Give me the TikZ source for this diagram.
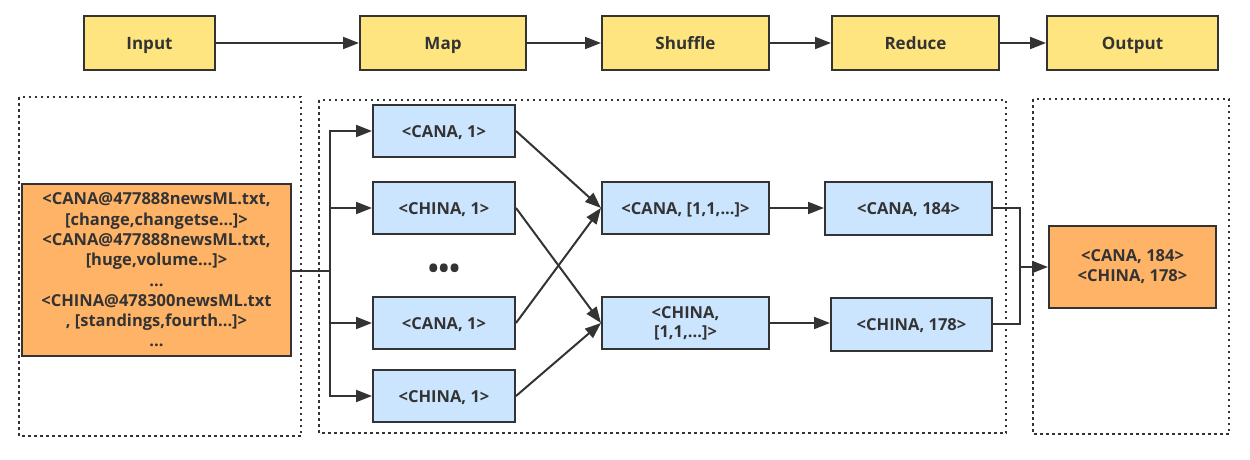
\documentclass[tikz,border=0pt]{standalone}
\usepackage{fontspec}
\setmainfont{Open Sans}
\usetikzlibrary{arrows.meta}
\definecolor{bordc}{RGB}{51,51,51}
\definecolor{yel}{RGB}{255,229,127}
\definecolor{blu}{RGB}{204,229,255}
\definecolor{ora}{RGB}{255,179,102}
\definecolor{txt}{RGB}{51,51,51}
\begin{document}
\begin{tikzpicture}[x=1pt,y=-1pt,
  box/.style={draw=bordc,line width=2pt,rectangle,inner sep=0pt,align=center,
    text=txt,font=\bfseries\fontsize{16.5}{20}\selectfont},
  one/.style={text height=12pt,text depth=0pt},
  stage/.style={box,one,fill=yel,minimum height=54pt,font=\bfseries\fontsize{17}{20}\selectfont},
  kv/.style={box,fill=blu,minimum height=52pt},
  res/.style={box,fill=ora},
  arr/.style={draw=bordc,line width=2pt,-{Triangle[length=16pt,width=12pt]}},
  ln/.style={draw=bordc,line width=2pt},
  frame/.style={draw=bordc,line width=2pt,dash pattern=on 2.5pt off 3.5pt}]
\useasboundingbox (0,0) rectangle (1250,460);
% top row
\node[stage,minimum width=131pt] (tin) at (149.5,43) {Input};
\node[stage,minimum width=166pt] (tmap) at (443,43) {Map};
\node[stage,minimum width=167pt] (tshuf) at (685.5,43) {Shuffle};
\node[stage,minimum width=167pt] (tred) at (915.5,43) {Reduce};
\node[stage,minimum width=171pt] (tout) at (1132.5,43) {Output};
\draw[arr] (tin) -- (tmap);
\draw[arr] (tmap) -- (tshuf);
\draw[arr] (tshuf) -- (tred);
\draw[arr] (tred) -- (tout);
% frames
\draw[frame] (19,97) rectangle (301,436);
\draw[frame] (319,100) rectangle (1006,433);
\draw[frame] (1033,99) rectangle (1229,434);
% input
\node[res,minimum width=269pt,minimum height=172pt,font=\bfseries\fontsize{16.5}{20.3}\selectfont] (in) at (156.5,270)
  {<CANA@477888newsML.txt,\\ {[change,changetse...]>}\\ <CANA@477888newsML.txt,\\ {[huge,volume...]>}\\ ...\\ <CHINA@478300newsML.txt\\ {, [standings,fourth...]>}\\ ...};
% map
\node[kv,one,minimum width=142pt] (m1) at (444,131) {<CANA, 1>};
\node[kv,one,minimum width=142pt] (m2) at (444,208) {<CHINA, 1>};
\node[kv,one,minimum width=142pt] (m3) at (444,323) {<CANA, 1>};
\node[kv,one,minimum width=142pt] (m4) at (444,396) {<CHINA, 1>};
\node[text=txt,font=\bfseries\fontsize{28}{28}\selectfont,anchor=base,inner sep=0pt] (dots) at (444,278) {•••};
\coordinate (bus) at (330,271);
\draw[ln] (in.east |- bus) -- (bus);
\draw[arr] (bus) |- (m1.west);
\draw[arr] (bus) |- (m2.west);
\draw[arr] (bus) |- (m3.west);
\draw[arr] (bus) |- (m4.west);
% shuffle
\node[kv,one,minimum width=167pt] (s1) at (685.5,208) {<CANA, {[1,1,...]>}};
\node[kv,minimum width=167pt,font=\bfseries\fontsize{16.5}{19}\selectfont] (s2) at (685.5,323) {<CHINA,\\ {[1,1,...]>}};
\draw[arr] (m1.east) -- (s1.west);
\draw[arr] (m2.east) -- (s2.west);
\draw[arr] (m3.east) -- (s1.west);
\draw[arr] (m4.east) -- (s2.west);
% reduce
\node[kv,one,minimum width=167pt,minimum height=53pt] (r1) at (908.5,208) {<CANA, 184>};
\node[kv,one,minimum width=161pt,minimum height=53pt] (r2) at (911.5,324) {<CHINA, 178>};
\draw[arr] (s1.east) -- (r1.west |- s1.east);
\draw[arr] (s2.east) -- (r2.west |- s2.east);
% output
\node[res,minimum width=167pt,minimum height=82pt] (out) at (1132.5,267) {<CANA, 184>\\ <CHINA, 178>};
\coordinate (j1) at (1020,208);
\coordinate (j2) at (1020,324);
\coordinate (j) at (1020,267);
\draw[ln] (r1.east) -- (j1) -- (j2) -- (r2.east);
\draw[arr] (j) -- (out.west);
\end{tikzpicture}
\end{document}
